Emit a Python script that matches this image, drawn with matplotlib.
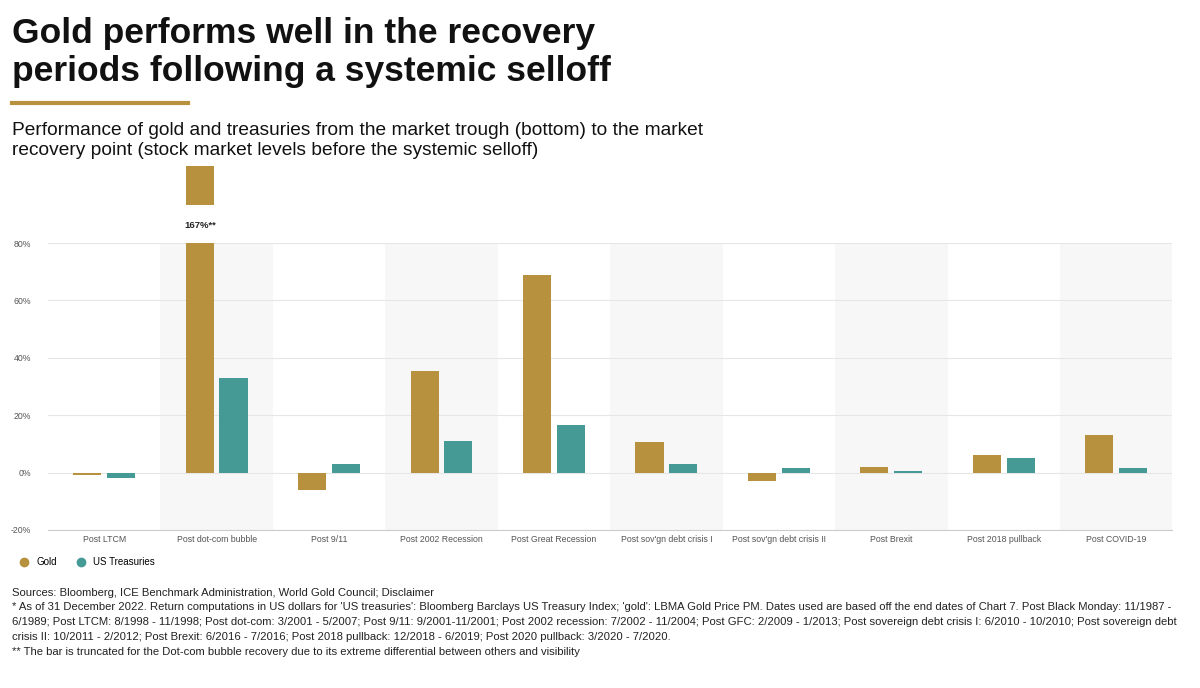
import numpy as np
import matplotlib.pyplot as plt
from matplotlib.lines import Line2D

plt.rcParams['font.family'] = ['Liberation Sans', 'DejaVu Sans']

categories = ["Post LTCM", "Post dot-com bubble", "Post 9/11", "Post 2002 Recession",
              "Post Great Recession", "Post sov'gn debt crisis I", "Post sov'gn debt crisis II",
              "Post Brexit", "Post 2018 pullback", "Post COVID-19"]
gold = [-1, 167, -6, 35.5, 69, 10.5, -3, 2, 6, 13]
treasuries = [-2, 33, 3, 11, 16.5, 3, 1.5, 0.5, 5, 1.5]
cap = 80

GOLD = "#b8913f"
TEAL = "#459a96"

fig = plt.figure(figsize=(12, 6.88), dpi=100)
ax = fig.add_axes([0.04, 0.2297, 0.937, 0.4171])

x = np.arange(len(categories))
w = 0.25
for i in range(1, len(categories), 2):
    ax.axvspan(i - 0.5, i + 0.5, color="#f7f7f7", zorder=0, lw=0)
gold_plot = [min(v, cap) for v in gold]
ax.bar(x - 0.15, gold_plot, w, color=GOLD, zorder=3)
ax.bar(x + 0.15, treasuries, w, color=TEAL, zorder=3)

# truncated stub for dot-com gold bar
i = int(np.argmax(gold))
ax.bar(x[i] - 0.15, 13.6, w, bottom=93.2, color=GOLD, clip_on=False, zorder=3)
ax.text(x[i] - 0.15, 86, f"{gold[i]:.0f}%**", ha="center", va="center", fontsize=6.8,
        fontweight="bold", color="#222222")

ax.set_xlim(-0.5, len(categories) - 0.5)
ax.set_ylim(-20, 80)
ax.set_yticks([-20, 0, 20, 40, 60, 80])
ax.set_yticklabels(["-20%", "0%", "20%", "40%", "60%", "80%"])
ax.yaxis.grid(True, color="#e6e6e6", lw=0.8, zorder=1)
ax.set_xticks(x)
ax.set_xticklabels(categories)
ax.tick_params(axis="both", length=0, labelsize=6.3, labelcolor="#555555")
ax.tick_params(axis="y", pad=12)
for s in ["top", "right", "left"]:
    ax.spines[s].set_visible(False)
ax.spines["bottom"].set_color("#cccccc")

handles = [Line2D([], [], marker="o", ls="", color=GOLD, markersize=6, label="Gold"),
           Line2D([], [], marker="o", ls="", color=TEAL, markersize=6, label="US Treasuries")]
fig.legend(handles=handles, loc="center left", bbox_to_anchor=(0.005, 0.183), ncol=2,
           frameon=False, fontsize=7, handletextpad=0.2, columnspacing=1.5)

fig.text(0.01, 0.975, "Gold performs well in the recovery\nperiods following a systemic selloff",
         fontsize=25.5, va="top", ha="left", color="#111111", linespacing=1.2, fontweight="bold")
fig.add_artist(Line2D([0.01, 0.157], [0.851, 0.851], color=GOLD, lw=3))
fig.text(0.01, 0.822, "Performance of gold and treasuries from the market trough (bottom) to the market\n"
         "recovery point (stock market levels before the systemic selloff)",
         fontsize=13.8, va="top", ha="left", color="#111111", linespacing=1.2)

notes = ("Sources: Bloomberg, ICE Benchmark Administration, World Gold Council; Disclaimer\n"
         "* As of 31 December 2022. Return computations in US dollars for 'US treasuries': Bloomberg Barclays US Treasury Index; 'gold': LBMA Gold Price PM. Dates used are based off the end dates of Chart 7. Post Black Monday: 11/1987 -\n"
         "6/1989; Post LTCM: 8/1998 - 11/1998; Post dot-com: 3/2001 - 5/2007; Post 9/11: 9/2001-11/2001; Post 2002 recession: 7/2002 - 11/2004; Post GFC: 2/2009 - 1/2013; Post sovereign debt crisis I: 6/2010 - 10/2010; Post sovereign debt\n"
         "crisis II: 10/2011 - 2/2012; Post Brexit: 6/2016 - 7/2016; Post 2018 pullback: 12/2018 - 6/2019; Post 2020 pullback: 3/2020 - 7/2020.\n"
         "** The bar is truncated for the Dot-com bubble recovery due to its extreme differential between others and visibility")
fig.text(0.01, 0.146, notes, fontsize=8.1, va="top", ha="left", color="#222222", linespacing=1.6)

fig.savefig("out.png", dpi=100, facecolor="white")
